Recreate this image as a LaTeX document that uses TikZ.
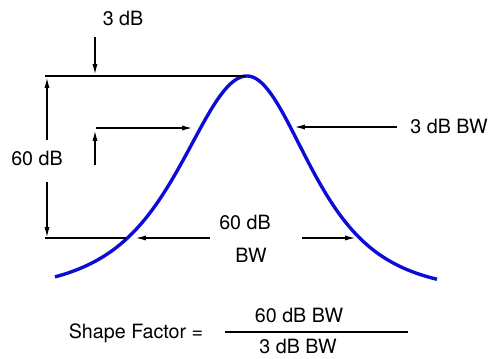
\documentclass[tikz,border=0pt]{standalone}
\usepackage{fontspec}
\setmainfont{TeX Gyre Heros}
\usepackage{xcolor}
\definecolor{curva}{RGB}{12,12,214}
\usetikzlibrary{arrows.meta}

\begin{document}
\begin{tikzpicture}[x=0.025cm,y=-0.025cm,>={Latex[length=7pt,width=3.6pt]},line width=0.75pt,
    rotulo/.style={font=\fontsize{14}{16}\selectfont,anchor=base,inner sep=0pt}]
    \useasboundingbox (0,0) rectangle (489,358);
    % curva de resposta
    \draw[curva,line width=2.4pt]
      plot[domain=55:247,samples=80] (\x,{295-219/(1+((\x-247)/122)^2)^2})
      -- plot[domain=247:437,samples=80] (\x,{295-219/(1+((\x-247)/115)^2)^2});
    \coordinate (topoE) at (45,76);
    \coordinate (pico) at (245,76);
    \coordinate (baseE) at (45,238);
    \coordinate (corteE) at (126,238);
    \draw (topoE) -- (pico);
    \draw (baseE) -- (corteE);
    % rotulos
    \node[rotulo] (tres) at (123,25) {3 dB};
    \node[rotulo] (sessenta) at (37,165) {60 dB};
    \node[rotulo] (tresBW) at (449,133) {3 dB BW};
    \node[rotulo] (sessentaBW) at (245,229) {60 dB};
    \node[rotulo] (bw) at (251,262) {BW};
    % setas
    \draw[->] (95,37) coordinate (t0) -- (95,74) coordinate (t1);
    \draw[->] (47,140) coordinate (s0) -- (47,78) coordinate (s1);
    \draw[->] (47,182) coordinate (s2) -- (47,237) coordinate (s3);
    \draw[->] (95,165) coordinate (e0) -- (95,131) coordinate (e1);
    \draw[->] (96,128) coordinate (e2) -- (192,128) coordinate (e3);
    \draw[->] (397,127) coordinate (d0) -- (295,127) coordinate (d1);
    \draw[->] (210,238) coordinate (b0) -- (136,238) coordinate (b1);
    \draw[->] (302,238) coordinate (b2) -- (355,238) coordinate (b3);
    % fator de forma
    \node[rotulo] (fator) at (136,338) {Shape Factor =};
    \node[rotulo] (num) at (299,322) {60 dB BW};
    \node[rotulo] (den) at (298,353) {3 dB BW};
    \draw (225,332) coordinate (fracE) -- (408,332) coordinate (fracD);
\end{tikzpicture}
\end{document}
